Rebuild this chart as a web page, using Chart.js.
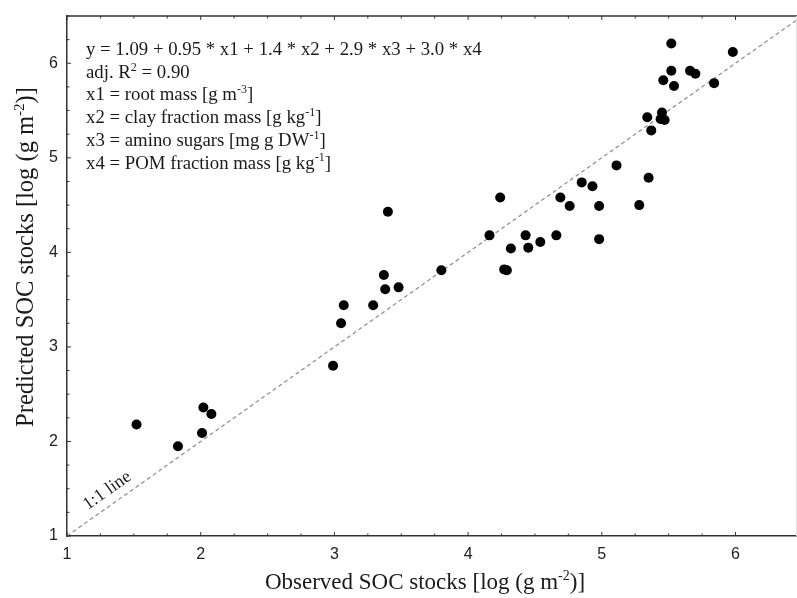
<!DOCTYPE html>
<html lang="en">
<head>
  <meta charset="UTF-8" />
  <title>SOC stocks</title>
  <script src="https://cdn.jsdelivr.net/npm/chart.js"></script>
  <style>
    html, body { margin: 0; padding: 0; background: #fff; }
    #wrap { width: 797px; height: 598px; }
  </style>
</head>
<body>
  <div id="wrap"><canvas id="chart" width="797" height="598"></canvas></div>

  <script>
    // observed vs predicted SOC stocks, log (g m-2)
    const observed = [1.52, 1.83, 2.01, 2.02, 2.08, 2.99, 3.05, 3.07, 3.29, 3.37, 3.38, 3.40, 3.48,
      3.80, 4.16, 4.24, 4.27, 4.29, 4.32, 4.43, 4.45, 4.54, 4.66, 4.69, 4.76, 4.85, 4.93, 4.98, 4.98,
      5.11, 5.28, 5.35, 5.34, 5.37, 5.44, 5.45, 5.47, 5.46, 5.52, 5.52, 5.54, 5.66, 5.70, 5.84, 5.98];
    const predicted = [2.18, 1.95, 2.09, 2.36, 2.29, 2.80, 3.25, 3.44, 3.44, 3.76, 3.61, 4.43, 3.63,
      3.81, 4.18, 4.58, 3.82, 3.81, 4.04, 4.18, 4.05, 4.11, 4.18, 4.58, 4.49, 4.74, 4.70, 4.49, 4.14,
      4.92, 4.50, 4.79, 5.43, 5.29, 5.41, 5.48, 5.40, 5.82, 6.21, 5.92, 5.76, 5.92, 5.89, 5.79, 6.12];
    const oneToOne = [1, 6.5];
    const oneToOneLabel = '1:1 line';
    const xTitle = 'Observed SOC stocks [log (g m^{-2})]';
    const yTitle = 'Predicted SOC stocks [log (g m^{-2})]';
    const modelText = [
      'y = 1.09 + 0.95 * x1 + 1.4 * x2 + 2.9 * x3 + 3.0 * x4',
      'adj. R^{2} = 0.90',
      'x1 = root mass [g m^{-3}]',
      'x2 = clay fraction mass [g kg^{-1}]',
      'x3 = amino sugars [mg g DW^{-1}]',
      'x4 = POM fraction mass [g kg^{-1}]'
    ];

    const SERIF = '"Liberation Serif", "Times New Roman", serif';
    const SANS = '"Liberation Sans", Arial, sans-serif';

    // text with ^{...} superscripts
    function drawRich(ctx, str, x, y, size, align) {
      const parts = str.split(/(\^\{[^}]*\})/).filter(s => s.length);
      const segs = parts.map(p => p.startsWith('^{')
        ? { t: p.slice(2, -1), sup: true } : { t: p, sup: false });
      let total = 0;
      segs.forEach(s => {
        ctx.font = (s.sup ? Math.round(size * 0.62) : size) + 'px ' + SERIF;
        s.w = ctx.measureText(s.t).width;
        total += s.w;
      });
      let cx = align === 'center' ? x - total / 2 : x;
      segs.forEach(s => {
        ctx.font = (s.sup ? Math.round(size * 0.62) : size) + 'px ' + SERIF;
        ctx.fillText(s.t, cx, s.sup ? y - size * 0.38 : y);
        cx += s.w;
      });
    }

    const extras = {
      id: 'extras',
      afterDraw(chart) {
        const { ctx, chartArea: a, scales: { x, y } } = chart;
        ctx.save();

        // frame top + faint right edge
        ctx.strokeStyle = '#333';
        ctx.lineWidth = 1.5;
        ctx.beginPath();
        ctx.moveTo(a.left, a.top);
        ctx.lineTo(a.right, a.top);
        ctx.stroke();
        ctx.strokeStyle = '#e4e4e4';
        ctx.lineWidth = 1;
        ctx.beginPath();
        ctx.moveTo(a.right - 0.5, a.top);
        ctx.lineTo(a.right - 0.5, a.bottom);
        ctx.stroke();

        // inward ticks
        ctx.strokeStyle = '#333';
        ctx.lineWidth = 1;
        const onStep = v => Math.abs(v * 4 - Math.round(v * 4)) < 1e-6;
        x.ticks.forEach(t => {
          if (!onStep(t.value)) return;
          const px = x.getPixelForValue(t.value);
          const len = Number.isInteger(t.value) ? 4 : 2.5;
          ctx.beginPath();
          ctx.moveTo(px, a.bottom); ctx.lineTo(px, a.bottom - len);
          ctx.moveTo(px, a.top); ctx.lineTo(px, a.top + len);
          ctx.stroke();
        });
        y.ticks.forEach(t => {
          if (!onStep(t.value)) return;
          const py = y.getPixelForValue(t.value);
          const len = Number.isInteger(t.value) ? 4 : 2.5;
          ctx.beginPath();
          ctx.moveTo(a.left, py); ctx.lineTo(a.left + len, py);
          ctx.stroke();
        });

        ctx.fillStyle = '#1a1a1a';
        ctx.textBaseline = 'alphabetic';

        // model text
        modelText.forEach((line, i) => {
          drawRich(ctx, line, a.left + 19, a.top + 39 + i * 22.7, 18.8, 'left');
        });

        // axis titles
        drawRich(ctx, xTitle, 425, 589, 23, 'center');
        ctx.save();
        ctx.translate(33, 257);
        ctx.rotate(-Math.PI / 2);
        drawRich(ctx, yTitle, 0, 0, 24.5, 'center');
        ctx.restore();

        // 1:1 line label
        const p0 = { x: x.getPixelForValue(1.36), y: y.getPixelForValue(1.36) };
        const ang = Math.atan2(y.getPixelForValue(1) - y.getPixelForValue(2),
          x.getPixelForValue(2) - x.getPixelForValue(1));
        ctx.save();
        ctx.translate(p0.x, p0.y);
        ctx.rotate(-ang);
        ctx.font = '18px ' + SERIF;
        ctx.textAlign = 'center';
        ctx.fillText(oneToOneLabel, 0, -9);
        ctx.restore();

        ctx.restore();
      }
    };

    new Chart(document.getElementById('chart'), {
      type: 'scatter',
      data: {
        datasets: [
          {
            label: 'samples',
            data: observed.map((v, i) => ({ x: v, y: predicted[i] })),
            backgroundColor: '#000',
            borderWidth: 0,
            pointRadius: 5,
            order: 1
          },
          {
            type: 'line',
            label: '1:1',
            data: oneToOne.map(v => ({ x: v, y: v })),
            borderColor: '#8c8c8c',
            borderWidth: 1.2,
            borderDash: [4, 3],
            pointRadius: 0,
            fill: false,
            order: 2
          }
        ]
      },
      options: {
        responsive: false,
        animation: false,
        devicePixelRatio: 1,
        layout: { autoPadding: false, padding: { top: 16, right: 0, left: 0, bottom: 0 } },
        plugins: { legend: { display: false }, tooltip: { enabled: false } },
        scales: {
          x: {
            type: 'linear',
            min: 1,
            max: 6.46,
            afterFit: s => {
              s.height = 62;
              s.paddingLeft = 0; s.paddingRight = 0;
            },
            grid: { display: false, drawTicks: false },
            border: { display: true, color: '#333', width: 1.5 },
            ticks: {
              stepSize: 0.25,
              autoSkip: false,
              maxRotation: 0,
              padding: 9,
              color: '#222',
              font: { family: SANS, size: 16 },
              callback: v => Number.isInteger(v) ? String(v) : ''
            }
          },
          y: {
            type: 'linear',
            min: 1,
            max: 6.5,
            afterFit: s => {
              s.width = 67;
              s.paddingTop = 0; s.paddingBottom = 0;
            },
            grid: { display: false, drawTicks: false },
            border: { display: true, color: '#333', width: 1.5 },
            ticks: {
              stepSize: 0.25,
              autoSkip: false,
              padding: 9,
              color: '#222',
              font: { family: SANS, size: 16 },
              callback: v => Number.isInteger(v) ? String(v) : ''
            }
          }
        }
      },
      plugins: [extras]
    });
  </script>
</body>
</html>
